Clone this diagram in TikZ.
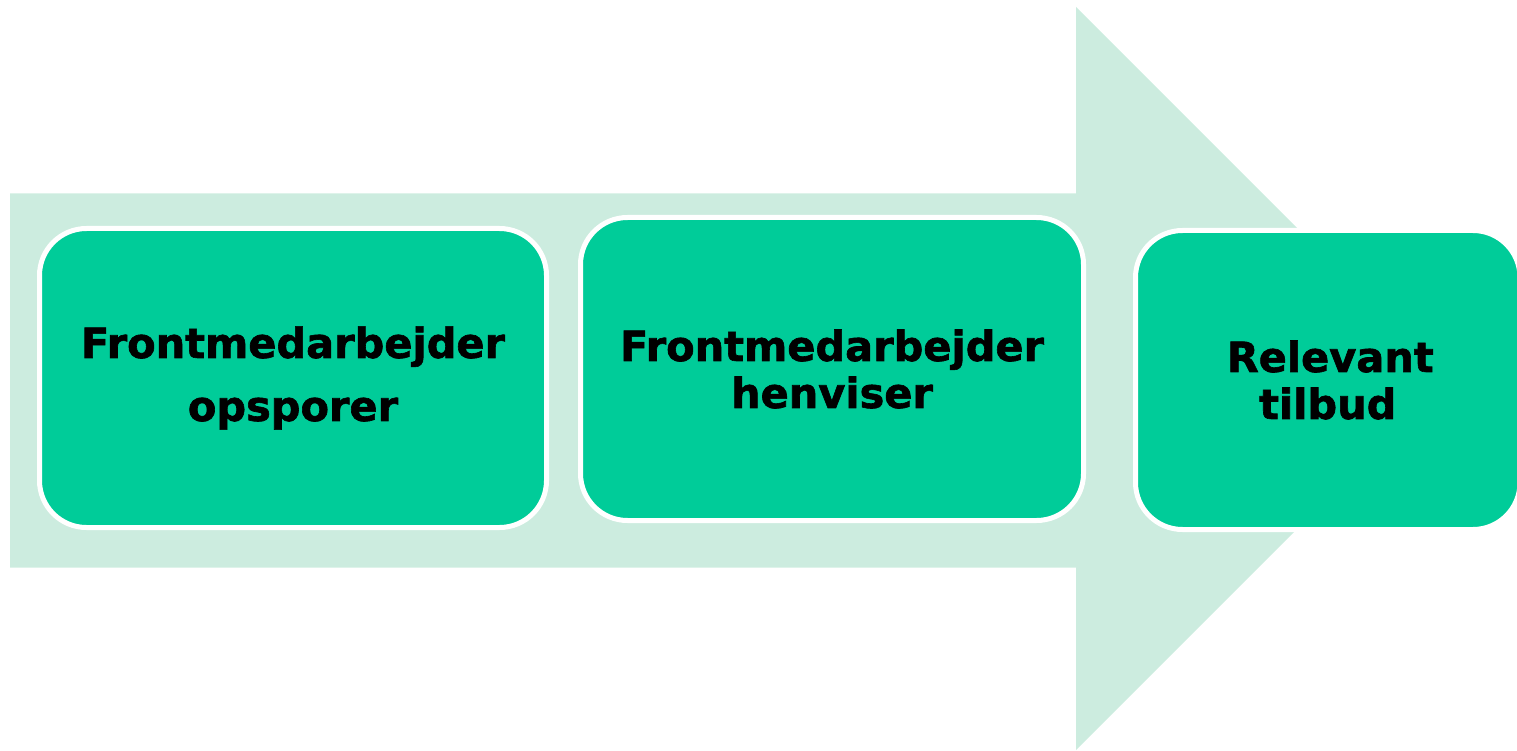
\documentclass[tikz,border=0pt]{standalone}
\usepackage{fontspec}
\setmainfont{DejaVu Sans}
\newfontfamily\boxfont[FakeBold=1.5]{DejaVu Sans Bold}
\definecolor{arrowbg}{HTML}{CCECDF}
\definecolor{boxfill}{HTML}{00CC99}
\begin{document}
\begin{tikzpicture}[x=1pt,y=-1pt,
  stepbox/.style={draw=white, line width=5pt, fill=boxfill, rounded corners=47pt,
    align=center, inner sep=0pt, outer sep=0pt,
    font=\boxfont\fontsize{41.5}{47}\selectfont, text=black}]
\useasboundingbox (0,0) rectangle (1517,751);
\begin{scope}
\clip (0,0) rectangle (1517,751);
\fill[arrowbg] (10,193.5) -- (1076,193.5) -- (1076,7) -- (1447.5,378.5) -- (1076,750) -- (1076,567.5) -- (10,567.5) -- cycle;
\node[stepbox, minimum width=507pt, minimum height=299pt] (b1) at (293,378)
  {Frontmedarbejder\\[16pt]opsporer};
\node[stepbox, minimum width=503pt, minimum height=303pt] (b2) at (832,369)
  {Frontmedarbejder\\henviser};
\node[stepbox, minimum width=384.5pt, minimum height=299pt] (b3) at (1327.75,380)
  {\hspace*{5pt}Relevant\\tilbud};
\end{scope}
\end{tikzpicture}
\end{document}
